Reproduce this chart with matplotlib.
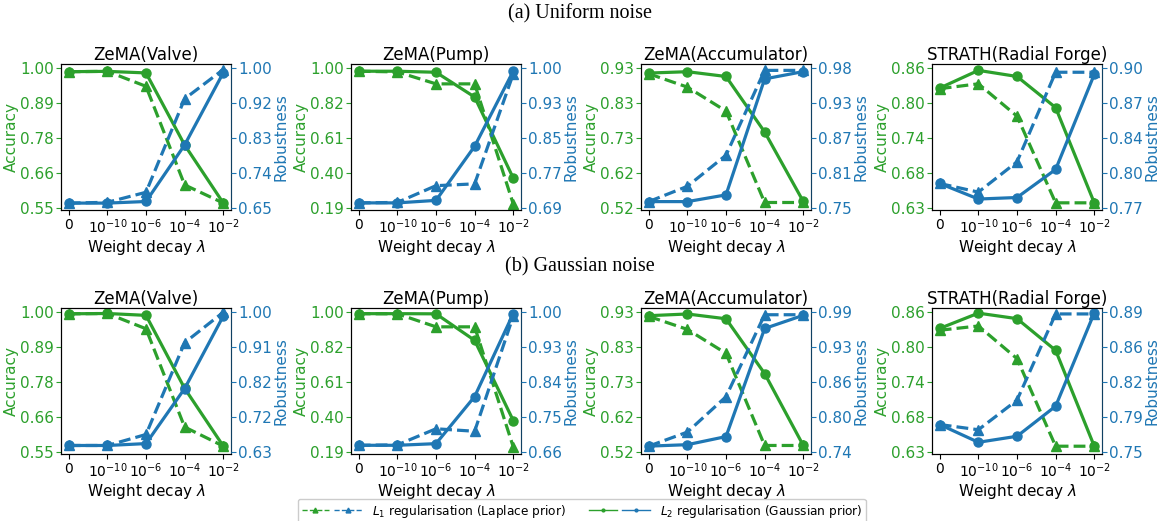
import numpy as np
import matplotlib
matplotlib.use("Agg")
import matplotlib.pyplot as plt
from matplotlib.lines import Line2D
from matplotlib.legend_handler import HandlerTuple

GREEN = "#2ca02c"
BLUE = "#1f77b4"

x_labels = ["0", r"$10^{-10}$", r"$10^{-6}$", r"$10^{-4}$", r"$10^{-2}$"]
titles = ["ZeMA(Valve)", "ZeMA(Pump)", "ZeMA(Accumulator)", "STRATH(Radial Forge)"]
row_titles = ["(a) Uniform noise", "(b) Gaussian noise"]

# ---- (a) Uniform noise ----
uni_valve_acc_l1 = [0.988, 0.989, 0.941, 0.625, 0.567]
uni_valve_acc_l2 = [0.988, 0.989, 0.984, 0.753, 0.567]
uni_valve_rob_l1 = [0.663, 0.665, 0.690, 0.923, 0.996]
uni_valve_rob_l2 = [0.663, 0.663, 0.667, 0.808, 0.988]

uni_pump_acc_l1 = [0.981, 0.977, 0.908, 0.908, 0.215]
uni_pump_acc_l2 = [0.981, 0.981, 0.975, 0.832, 0.364]
uni_pump_rob_l1 = [0.702, 0.703, 0.740, 0.744, 0.987]
uni_pump_rob_l2 = [0.702, 0.702, 0.7075, 0.827, 0.993]

uni_acc_acc_l1 = [0.913, 0.874, 0.804, 0.537, 0.537]
uni_acc_acc_l2 = [0.915, 0.919, 0.905, 0.743, 0.540]
uni_acc_rob_l1 = [0.761, 0.786, 0.837, 0.976, 0.976]
uni_acc_rob_l2 = [0.761, 0.761, 0.772, 0.962, 0.974]

uni_str_acc_l1 = [0.826, 0.834, 0.781, 0.639, 0.639]
uni_str_acc_l2 = [0.827, 0.856, 0.846, 0.795, 0.639]
uni_str_rob_l1 = [0.793, 0.785, 0.813, 0.896, 0.896]
uni_str_rob_l2 = [0.793, 0.7786, 0.780, 0.806, 0.894]

# ---- (b) Gaussian noise ----
gau_valve_acc_l1 = [0.994, 0.995, 0.946, 0.631, 0.570]
gau_valve_acc_l2 = [0.994, 0.995, 0.989, 0.755, 0.570]
gau_valve_rob_l1 = [0.648, 0.648, 0.677, 0.919, 0.999]
gau_valve_rob_l2 = [0.648, 0.648, 0.653, 0.798, 0.989]

gau_pump_acc_l1 = [0.990, 0.989, 0.914, 0.914, 0.221]
gau_pump_acc_l2 = [0.990, 0.990, 0.989, 0.836, 0.373]
gau_pump_rob_l1 = [0.677, 0.678, 0.717, 0.711, 0.990]
gau_pump_rob_l2 = [0.677, 0.677, 0.681, 0.795, 0.996]

gau_acc_acc_l1 = [0.917, 0.879, 0.809, 0.540, 0.540]
gau_acc_acc_l2 = [0.919, 0.924, 0.910, 0.750, 0.540]
gau_acc_rob_l1 = [0.751, 0.776, 0.839, 0.985, 0.985]
gau_acc_rob_l2 = [0.751, 0.7536, 0.768, 0.9605, 0.984]

gau_str_acc_l1 = [0.830, 0.837, 0.7835, 0.640, 0.640]
gau_str_acc_l2 = [0.833, 0.858, 0.849, 0.797, 0.640]
gau_str_rob_l1 = [0.7777, 0.7725, 0.802, 0.888, 0.888]
gau_str_rob_l2 = [0.7777, 0.760, 0.766, 0.796, 0.889]

# tick labels (5 evenly spaced ticks on each y axis)
acc_ticks_valve = ["0.55", "0.66", "0.78", "0.89", "1.00"]
acc_ticks_pump = ["0.19", "0.40", "0.61", "0.82", "1.00"]
acc_ticks_accum = ["0.52", "0.62", "0.73", "0.83", "0.93"]
acc_ticks_strath = ["0.63", "0.68", "0.74", "0.80", "0.86"]

rob_ticks_uni_valve = ["0.65", "0.74", "0.83", "0.92", "1.00"]
rob_ticks_uni_pump = ["0.69", "0.77", "0.85", "0.93", "1.00"]
rob_ticks_uni_accum = ["0.75", "0.81", "0.87", "0.93", "0.98"]
rob_ticks_uni_strath = ["0.77", "0.80", "0.84", "0.87", "0.90"]

rob_ticks_gau_valve = ["0.63", "0.72", "0.82", "0.91", "1.00"]
rob_ticks_gau_pump = ["0.66", "0.75", "0.84", "0.93", "1.00"]
rob_ticks_gau_accum = ["0.74", "0.80", "0.86", "0.93", "0.99"]
rob_ticks_gau_strath = ["0.75", "0.79", "0.82", "0.86", "0.89"]

rows = [
    [
        (uni_valve_acc_l1, uni_valve_acc_l2, uni_valve_rob_l1, uni_valve_rob_l2, acc_ticks_valve, rob_ticks_uni_valve),
        (uni_pump_acc_l1, uni_pump_acc_l2, uni_pump_rob_l1, uni_pump_rob_l2, acc_ticks_pump, rob_ticks_uni_pump),
        (uni_acc_acc_l1, uni_acc_acc_l2, uni_acc_rob_l1, uni_acc_rob_l2, acc_ticks_accum, rob_ticks_uni_accum),
        (uni_str_acc_l1, uni_str_acc_l2, uni_str_rob_l1, uni_str_rob_l2, acc_ticks_strath, rob_ticks_uni_strath),
    ],
    [
        (gau_valve_acc_l1, gau_valve_acc_l2, gau_valve_rob_l1, gau_valve_rob_l2, acc_ticks_valve, rob_ticks_gau_valve),
        (gau_pump_acc_l1, gau_pump_acc_l2, gau_pump_rob_l1, gau_pump_rob_l2, acc_ticks_pump, rob_ticks_gau_pump),
        (gau_acc_acc_l1, gau_acc_acc_l2, gau_acc_rob_l1, gau_acc_rob_l2, acc_ticks_accum, rob_ticks_gau_accum),
        (gau_str_acc_l1, gau_str_acc_l2, gau_str_rob_l1, gau_str_rob_l2, acc_ticks_strath, rob_ticks_gau_strath),
    ],
]

W, H = 1159, 521
fig = plt.figure(figsize=(W / 100, H / 100), dpi=100)

lefts_px = [61, 351, 641, 932]
row_top_px = [64, 308]
ax_w_px, ax_h_px = 170, 146
row_title_y_px = [14, 267]

LW = 2.3
MS = 6.5
TICK_FS = 11
LABEL_FS = 11
TITLE_FS = 12


def set_even_ticks(axis, labels):
    lo, hi = float(labels[0]), float(labels[-1])
    ticks = np.linspace(lo, hi, len(labels))
    axis.set_yticks(ticks)
    axis.set_yticklabels(labels)
    span = hi - lo
    axis.set_ylim(lo - 0.012 * span, hi + 0.028 * span)


x = np.arange(len(x_labels))
for r, row in enumerate(rows):
    fig.text(0.5, 1 - row_title_y_px[r] / H, row_titles[r], ha="center", va="center",
             family="Liberation Serif", fontsize=14.5)
    for c, (a1, a2, r1, r2, at, rt) in enumerate(row):
        left = lefts_px[c] / W
        bottom = 1 - (row_top_px[r] + ax_h_px) / H
        ax = fig.add_axes([left, bottom, ax_w_px / W, ax_h_px / H])
        ax.plot(x, a1, color=GREEN, ls="--", marker="^", lw=LW, ms=MS)
        ax.plot(x, a2, color=GREEN, ls="-", marker="o", lw=LW, ms=MS)
        ax2 = ax.twinx()
        ax2.plot(x, r1, color=BLUE, ls="--", marker="^", lw=LW, ms=MS)
        ax2.plot(x, r2, color=BLUE, ls="-", marker="o", lw=LW, ms=MS)

        set_even_ticks(ax, at)
        set_even_ticks(ax2, rt)
        ax.set_xticks(x)
        ax.set_xticklabels(x_labels)
        ax.tick_params(axis="x", labelsize=TICK_FS - 1, pad=2)
        ax.tick_params(axis="y", colors=GREEN, labelsize=TICK_FS, pad=1.5)
        ax2.tick_params(axis="y", colors=BLUE, labelsize=TICK_FS, pad=1.5)
        ax2.spines["right"].set_color((0.12, 0.47, 0.71, 0.55))
        ax.set_ylabel("Accuracy", color=GREEN, fontsize=LABEL_FS, labelpad=1)
        ax2.set_ylabel("Robustness", color=BLUE, fontsize=LABEL_FS, labelpad=1)
        ax.set_xlabel(r"Weight decay $\lambda$", fontsize=LABEL_FS, labelpad=1)
        ax.set_title(titles[c], fontsize=TITLE_FS, pad=2)

l1g = Line2D([], [], color=GREEN, ls="--", marker="^", lw=1, ms=3.5)
l1b = Line2D([], [], color=BLUE, ls="--", marker="^", lw=1, ms=3.5)
l2g = Line2D([], [], color=GREEN, ls="-", marker="o", lw=1, ms=2)
l2b = Line2D([], [], color=BLUE, ls="-", marker="o", lw=1, ms=2)
fig.legend([(l1g, l1b), (l2g, l2b)],
           [r"$L_1$ regularisation (Laplace prior)", r"$L_2$ regularisation (Gaussian prior)"],
           handler_map={tuple: HandlerTuple(ndivide=None, pad=0.4)},
           ncol=2, loc="upper center", bbox_to_anchor=(0.502, 1 - 493 / H),
           fontsize=8.7, handlelength=5, columnspacing=2, borderpad=0.3,
           fancybox=True, framealpha=1)

fig.savefig("out.png", dpi=100)
